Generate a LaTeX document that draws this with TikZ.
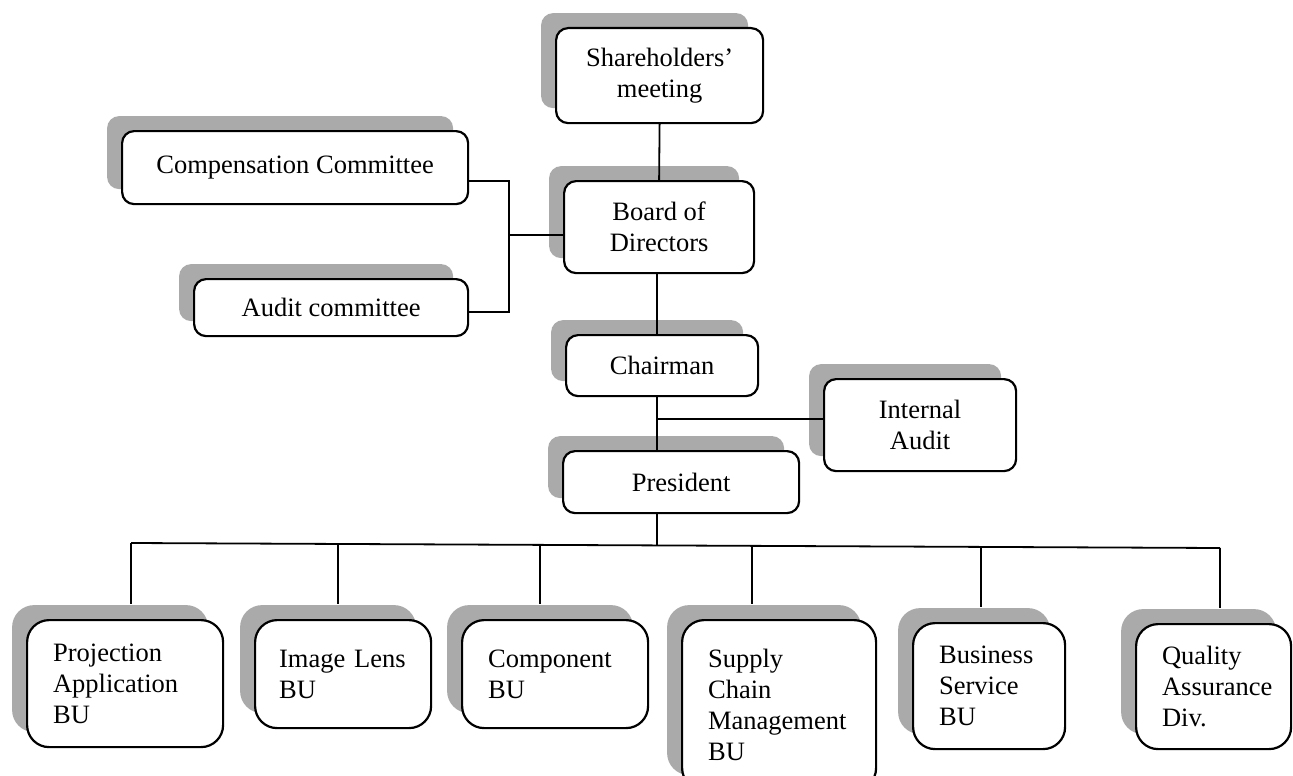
\documentclass[tikz,border=0pt]{standalone}
\usepackage{fontspec}
\setmainfont{Liberation Serif}
\usetikzlibrary{shadows,calc}
\definecolor{shadowgray}{RGB}{170,170,170}
\tikzset{
  orgbox/.style={draw, line width=2.2pt, fill=white, rounded corners=12pt,
    anchor=north west, align=center, inner sep=0pt,
    general shadow={fill=shadowgray, shadow xshift=-15pt, shadow yshift=15pt}},
  bubox/.style={orgbox, rounded corners=22pt, align=left, inner xsep=26pt, inner ysep=0pt},
  link/.style={line width=1.8pt}
}

\begin{document}
\begin{tikzpicture}[x=1pt,y=-1pt,font=\fontsize{26.5}{31}\selectfont]
  \path[use as bounding box] (0,0) rectangle (1293,776);
  \clip (0,0) rectangle (1293,776);

  % governance
  \node[orgbox, minimum width=207pt, minimum height=95pt] (share) at (555,27) {Shareholders'\\meeting};
  \node[orgbox, minimum width=190pt, minimum height=92pt] (board) at (563,180) {Board of\\Directors};
  \node[orgbox, minimum width=346pt, minimum height=73pt] (comp) at (121,130) {Compensation Committee};
  \node[orgbox, minimum width=274pt, minimum height=57pt] (audit) at (193,278) {Audit committee};
  \node[orgbox, minimum width=192pt, minimum height=61pt] (chair) at (565,334) {Chairman};
  \node[orgbox, minimum width=192pt, minimum height=92pt] (intaudit) at (823,378) {Internal\\Audit};
  \node[orgbox, minimum width=236pt, minimum height=62pt] (pres) at (562,450) {President};

  % business units
  \node[bubox, text width=144pt, minimum height=127pt] (proj) at (26,619) {Projection\\Application\\BU};
  \node[bubox, inner xsep=24pt, text width=128pt, minimum height=108pt] (lens) at (254,619) {Image Lens\\BU};
  \node[bubox, text width=134pt, minimum height=108pt] (compbu) at (461,619) {Component\\BU};
  \node[bubox, text width=142pt, minimum height=170pt] (supply) at (681,619) {Supply\\Chain\\Management\\BU};
  \node[bubox, text width=100pt, minimum height=126pt] (busvc) at (912,622) {Business\\Service\\BU};
  \node[bubox, text width=103pt, minimum height=125pt] (quality) at (1135,623) {Quality\\Assurance\\Div.};

  % connectors
  \coordinate (spine) at (657,0);
  \coordinate (cjtop) at (509,181);
  \coordinate (cjmid) at (509,235);
  \coordinate (cjbot) at (509,312);
  \coordinate (iajoin) at (657,419);
  \coordinate (bmid) at (657,545.5);
  \coordinate (b1) at (131,543);
  \coordinate (b2) at (338,544);
  \coordinate (b3) at (540,545);
  \coordinate (b4) at (752,546);
  \coordinate (b5) at (981,547);
  \coordinate (b6) at (1220,548);

  \draw[link] (share.south) -- (board.north);
  \draw[link] (cjtop -| comp.east) -- (cjtop) -- (cjbot) -- (cjbot -| audit.east);
  \draw[link] (cjmid) -- (cjmid -| board.west);
  \draw[link] (board.south -| spine) -- (chair.north -| spine);
  \draw[link] (chair.south -| spine) -- (pres.north -| spine);
  \draw[link] (iajoin) -- (iajoin -| intaudit.west);
  \draw[link] (pres.south -| spine) -- (bmid);
  \draw[link] (b1) -- (b6);
  \foreach \b/\n in {b1/proj,b2/lens,b3/compbu,b4/supply,b5/busvc,b6/quality}
    \draw[link] (\b) -- ($(\b |- \n.north)+(0,-15)$);
\end{tikzpicture}
\end{document}
